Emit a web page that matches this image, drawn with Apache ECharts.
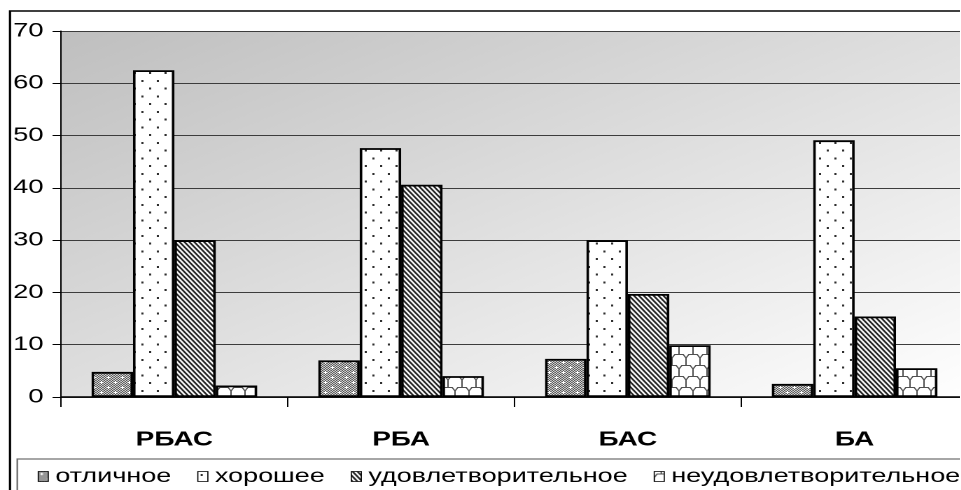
<!DOCTYPE html>
<html>
<head>
<meta charset="utf-8">
<script src="https://cdn.jsdelivr.net/npm/echarts@6/dist/echarts.min.js"></script>
<style>
  html, body { margin: 0; padding: 0; background: #fff; overflow: hidden; }
  #wrap { width: 961px; height: 490px; overflow: hidden; position: relative; }
  #chart { position: absolute; left: 0; top: 0; height: 490px; transform-origin: 0 0; }
</style>
</head>
<body>
<div id="wrap"><div id="chart"></div></div>
<script>
// Horizontal stretch of the whole drawing (wide, flattened typeface look)
const K = 1.4;

const categories = ['РБАС', 'РБА', 'БАС', 'БА'];
const seriesNames = ['отличное', 'хорошее', 'удовлетворительное', 'неудовлетворительное'];
const excellent = [4.8, 7.0, 7.3, 2.5];
const good = [62.5, 47.6, 30.0, 49.1];
const satisfactory = [30.0, 40.6, 19.7, 15.4];
const unsatisfactory = [2.2, 4.0, 9.9, 5.5];
const yMin = 0, yMax = 70, yStep = 10;

const FONT = '"Liberation Sans", Arial, sans-serif';

const el = document.getElementById('chart');
el.style.width = (961 / K) + 'px';
el.style.transform = 'scaleX(' + K + ')';

// ---- fill patterns (tiles drawn at device resolution, scaled by 0.5) ----
function tile(w, h, draw) {
  const c = document.createElement('canvas');
  c.width = w; c.height = h;
  draw(c.getContext('2d'), w, h);
  return c;
}
function pattern(c) {
  return { image: c, repeat: 'repeat', scaleX: 0.5, scaleY: 0.5 };
}

// dense grey texture with small white crosses
const texCross = tile(20, 20, (ctx, w, h) => {
  for (let y = 0; y < h; y += 2) {
    for (let x = 0; x < w; x += 2) {
      ctx.fillStyle = ((x + y) / 2) % 2 ? '#d2d2d2' : '#5a5a5a';
      ctx.fillRect(x, y, 2, 2);
    }
  }
  ctx.fillStyle = '#ffffff';
  [[5, 5], [15, 15]].forEach(([cx, cy]) => {
    ctx.fillRect(cx - 3, cy - 1, 6, 2);
    ctx.fillRect(cx - 1, cy - 3, 2, 6);
  });
});

// white with sparse staggered dots
const texDots = tile(22, 31, (ctx, w, h) => {
  ctx.fillStyle = '#ffffff';
  ctx.fillRect(0, 0, w, h);
  ctx.fillStyle = '#2e2e2e';
  ctx.fillRect(4, 5, 3, 4);
  ctx.fillRect(15, 20, 3, 4);
});

// diagonal stripes running down to the right
const texStripes = tile(7, 10, (ctx, w, h) => {
  const img = ctx.createImageData(w, h);
  for (let y = 0; y < h; y++) {
    for (let x = 0; x < w; x++) {
      let cov = 0;
      for (let sy = 0; sy < 4; sy++) {
        for (let sx = 0; sx < 4; sx++) {
          const px = x + (sx + 0.5) / 4, py = y + (sy + 0.5) / 4;
          let f = (px / w - py / h) % 1;
          if (f < 0) f += 1;
          if (f < 0.5) cov++;
        }
      }
      const t = cov / 16;
      const v = Math.round(250 * (1 - t) + 35 * t);
      const i = (y * w + x) * 4;
      img.data[i] = img.data[i + 1] = img.data[i + 2] = v;
      img.data[i + 3] = 255;
    }
  }
  ctx.putImageData(img, 0, 0);
});

// white with grey shingle outlines (flat arches joined by short uprights)
const texShingle = tile(20, 44, (ctx, w, h) => {
  ctx.fillStyle = '#ffffff';
  ctx.fillRect(0, 0, w, h);
  ctx.strokeStyle = '#505050';
  ctx.lineWidth = 2;
  ctx.lineJoin = 'miter';
  ctx.beginPath();
  [[0, 0], [10, 22]].forEach(([ox, oy]) => {
    for (const dx of [-20, 0, 20]) {
      for (const dy of [-44, 0, 44]) {
        const x0 = ox + dx, y0 = oy + dy;
        ctx.moveTo(x0, y0 + 12);
        ctx.lineTo(x0 + 4, y0 + 5);
        ctx.lineTo(x0 + 16, y0 + 5);
        ctx.lineTo(x0 + 20, y0 + 12);
        ctx.moveTo(x0, y0 + 12);
        ctx.lineTo(x0, y0 + 27);
      }
    }
  });
  ctx.stroke();
});

const fills = [texCross, texDots, texStripes, texShingle].map(pattern);
const values = [excellent, good, satisfactory, unsatisfactory];

const chart = echarts.init(el, null, { renderer: 'canvas', devicePixelRatio: 2 });

chart.setOption({
  animation: false,
  textStyle: { fontFamily: FONT },
  grid: {
    left: 61 / K,
    top: 31,
    width: 907 / K,
    height: 366,
    show: true,
    borderWidth: 0,
    outerBoundsMode: 'none',
    containLabel: false,
    // diagonal shading in the plot's own normalised space
    backgroundColor: new echarts.graphic.LinearGradient(0, 0, 0.484, 1.516, [
      { offset: 0, color: '#bfbfbf' },
      { offset: 1, color: '#ffffff' }
    ])
  },
  legend: {
    data: seriesNames,
    orient: 'horizontal',
    left: 37.7 / K,
    top: 467,
    padding: 0,
    icon: 'rect',
    itemWidth: 10 / K,
    itemHeight: 10,
    itemGap: 26 / K,
    textStyle: { fontFamily: FONT, fontSize: 19.3, color: '#000' },
    itemStyle: { borderColor: '#000', borderWidth: 0.8 }
  },
  xAxis: {
    type: 'category',
    data: categories,
    boundaryGap: true,
    axisLine: { show: true, lineStyle: { color: '#000', width: 1.5 } },
    axisTick: { show: true, inside: false, length: 10, alignWithLabel: false, lineStyle: { color: '#000', width: 1 } },
    axisLabel: { show: true, fontFamily: FONT, fontSize: 20, fontWeight: 'bold', color: '#000', margin: 33 },
    splitLine: { show: false }
  },
  yAxis: {
    type: 'value',
    min: yMin,
    max: yMax,
    interval: yStep,
    axisLine: { show: true, lineStyle: { color: '#000', width: 1 } },
    axisTick: { show: true, inside: false, length: 6, lineStyle: { color: '#000', width: 1 } },
    axisLabel: { show: true, fontFamily: FONT, fontSize: 19.5, color: '#000', margin: 12.5 },
    splitLine: { show: true, lineStyle: { color: '#3c3c3c', width: 1 } }
  },
  series: seriesNames.map((name, i) => ({
    name,
    type: 'bar',
    data: values[i],
    barGap: '0%',
    barCategoryGap: '27%',
    itemStyle: { color: fills[i], borderColor: '#000', borderWidth: 1.8 },
    emphasis: { disabled: true }
  })),
  graphic: [
    {
      type: 'rect',
      silent: true,
      shape: { x: 10 / K, y: 11, width: 1000, height: 600 },
      style: { fill: 'none', stroke: '#000', lineWidth: 1.6 }
    },
    {
      type: 'rect',
      silent: true,
      shape: { x: 17.3 / K, y: 459, width: 1000, height: 600 },
      style: { fill: 'none', stroke: '#707070', lineWidth: 1.2 }
    }
  ]
});
</script>
</body>
</html>
